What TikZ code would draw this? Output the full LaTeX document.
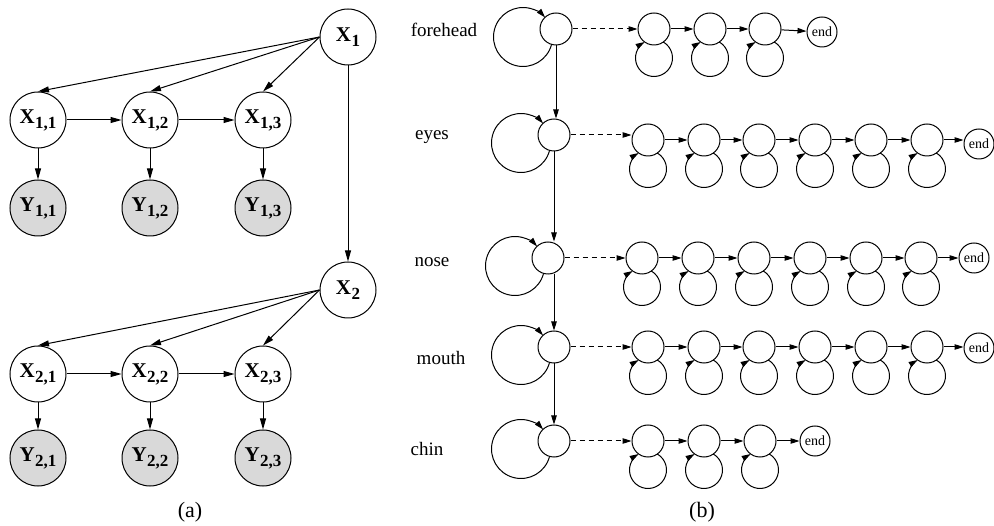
\documentclass[tikz,border=0pt]{standalone}
\usepackage{fontspec}
\setmainfont{Liberation Serif}
\usetikzlibrary{arrows.meta,calc}
\newcommand\xsub[2]{#1\kern0.5pt\raisebox{-5pt}{\fontsize{17}{17}\selectfont #2}}
\tikzset{
  bignode/.style={circle,draw,minimum size=56pt,inner sep=0pt,font=\fontsize{21}{21}\selectfont\bfseries},
  obsnode/.style={bignode,fill=gray!30},
  smnode/.style={circle,draw,minimum size=32pt,inner sep=0pt},
  endnode/.style={circle,draw,minimum size=30pt,inner sep=0pt,font=\fontsize{14}{14}\selectfont},
  lbl/.style={font=\fontsize{19}{19}\selectfont},
  caplbl/.style={font=\fontsize{22}{22}\selectfont},
  arA/.style={-{Triangle[length=11pt,width=6pt]}},
  arB/.style={-{Triangle[length=9pt,width=5.5pt]}},
  dsh/.style={dash pattern=on 5pt off 4pt},
}
\begin{document}
\begin{tikzpicture}[x=1pt,y=1pt,line width=1pt]
\useasboundingbox (0,0) rectangle (994,-526);
% ---------------- (a)
\node[bignode] (X1) at (348,-37) {\xsub{X}{1}};
\node[bignode] (X11) at (38,-120) {\xsub{X}{1,1}};
\node[bignode] (X12) at (150,-120) {\xsub{X}{1,2}};
\node[bignode] (X13) at (263,-120) {\xsub{X}{1,3}};
\node[obsnode] (Y11) at (38,-208) {\xsub{Y}{1,1}};
\node[obsnode] (Y12) at (150,-208) {\xsub{Y}{1,2}};
\node[obsnode] (Y13) at (263,-208) {\xsub{Y}{1,3}};
\node[bignode] (X2) at (348,-290) {\xsub{X}{2}};
\node[bignode] (X21) at (38,-374) {\xsub{X}{2,1}};
\node[bignode] (X22) at (150,-374) {\xsub{X}{2,2}};
\node[bignode] (X23) at (263,-374) {\xsub{X}{2,3}};
\node[obsnode] (Y21) at (38,-458) {\xsub{Y}{2,1}};
\node[obsnode] (Y22) at (150,-458) {\xsub{Y}{2,2}};
\node[obsnode] (Y23) at (263,-458) {\xsub{Y}{2,3}};
\node[caplbl] (capa) at (190,-512) {(a)};
\foreach \k in {1,2}{
  \foreach \j in {1,2,3}{
    \draw[arA] (X\k.west) -- (X\k\j.north);
    \draw[arA] (X\k\j) -- (Y\k\j);
  }
  \draw[arA] (X\k1) -- (X\k2);
  \draw[arA] (X\k2) -- (X\k3);
}
\draw[arA] (X1) -- (X2);
% ---------------- (b)
\node[caplbl] (capb) at (702,-512) {(b)};
% labels
\node[lbl] (tf) at (444,-30) {forehead};
\node[lbl] (te) at (432,-137) {eyes};
\node[lbl] (tn) at (432,-262) {nose};
\node[lbl] (tm) at (441,-358) {mouth};
\node[lbl] (tc) at (427,-449) {chin};
% small state nodes
\node[smnode] (fs) at (556,-29) {};
\node[smnode] (es) at (554,-135) {};
\node[smnode] (ns) at (548,-258) {};
\node[smnode] (ms) at (554,-347) {};
\node[smnode] (cs) at (554,-441) {};
% chains
\foreach \i/\x in {1/654,2/710,3/765} \node[smnode] (fc\i) at (\x,-29) {};
\node[endnode] (fe) at (822,-32) {end};
\foreach \i/\x in {1/648,2/704,3/759,4/815,5/871,6/927} \node[smnode] (ec\i) at (\x,-140) {};
\node[endnode] (ee) at (979,-144) {end};
\foreach \i/\x in {1/642,2/698,3/754,4/810,5/866,6/921} \node[smnode] (nc\i) at (\x,-258) {};
\node[endnode] (ne) at (974,-258) {end};
\foreach \i/\x in {1/648,2/704,3/759,4/815,5/871,6/927} \node[smnode] (mc\i) at (\x,-347) {};
\node[endnode] (me) at (979,-348) {end};
\foreach \i/\x in {1/648,2/704,3/760} \node[smnode] (cc\i) at (\x,-441) {};
\node[endnode] (ce) at (815,-441) {end};
% vertical arrows
\draw[arB] (fs.south) -- (fs.south |- es.north);
\draw[arB] (es.south) -- (es.south |- ns.north);
\draw[arB] (ns.south -| es.south) -- (es.south |- ms.north);
\draw[arB] (ms.south) -- (ms.south |- cs.north);
% big self loops and dashed arrows
\foreach \s/\c in {fs/fc1,es/ec1,ns/nc1,ms/mc1,cs/cc1}{
  \draw[arB] ($(\s)+(-33,-8)+(-14.4:29.5)$) arc[start angle=-14.4,end angle=-318.4,radius=29.5pt];
  \draw[arB,dsh] (\s.east) -- (\s.east -| \c.west);
}
% chain arrows
\foreach \a/\b in {1/2,2/3} \draw[arB] (fc\a) -- (fc\b);
\draw[arB] (fc3) -- (fe);
\foreach \a/\b in {1/2,2/3} \draw[arB] (cc\a) -- (cc\b);
\draw[arB] (cc3) -- (ce);
\foreach \r in {e,n,m}{
  \foreach \a/\b in {1/2,2/3,3/4,4/5,5/6} \draw[arB] (\r c\a) -- (\r c\b);
  \draw[arB] (\r c6.east) -- (\r c6.east -| \r e.west);
}
% small self loops
\foreach \n in {fc1,fc2,fc3,ec1,ec2,ec3,ec4,ec5,ec6,nc1,nc2,nc3,nc4,nc5,nc6,mc1,mc2,mc3,mc4,mc5,mc6,cc1,cc2,cc3}{
  \draw[arB] ($(\n)+(0,-29)+(59.8:18.5)$) arc[start angle=59.8,end angle=-239.8,radius=18.5pt];
}
\end{tikzpicture}
\end{document}
